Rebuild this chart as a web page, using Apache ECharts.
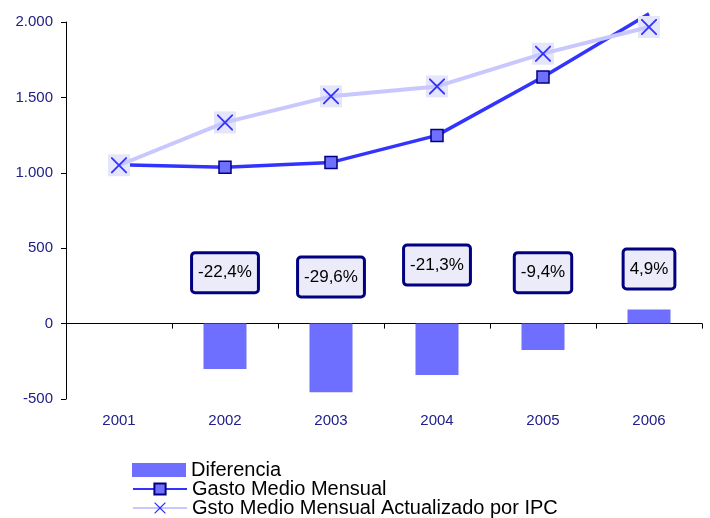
<!DOCTYPE html>
<html><head><meta charset="utf-8">
<script src="https://cdn.jsdelivr.net/npm/echarts@6/dist/echarts.min.js"></script>
<style>html,body{margin:0;padding:0;background:#fff}#c{width:710px;height:518px}</style>
</head><body><div id="c"></div>
<script>
const categories = ['2001', '2002', '2003', '2004', '2005', '2006'];
const diferencia = [null, -301, -456, -341, -175, 93];
const gasto = [1053, 1037, 1069, 1248, 1635, 2055];
const ipc = [1050, 1334, 1507, 1573, 1790, 1967];
const pctLabels = [null, '-22,4%', '-29,6%', '-21,3%', '-9,4%', '4,9%'];
const pctAnchor = [null, 338, 309, 388, 338, 362];
const legendNames = ['Diferencia', 'Gasto Medio Mensual', 'Gsto Medio Mensual Actualizado por IPC'];

const FONT = '"Liberation Sans", Arial, sans-serif';
const xPath = 'path://M0,0 L1.6,0 L10,8.4 L18.4,0 L20,0 L20,1.6 L11.6,10 L20,18.4 L20,20 L18.4,20 L10,11.6 L1.6,20 L0,20 L0,18.4 L8.4,10 L0,1.6 Z';

const legendTops = [460, 479, 498];
const legends = legendNames.map((n, i) => ({
  orient: 'horizontal', left: 132, top: legendTops[i], padding: 0, itemWidth: 54, itemHeight: 14,
  textStyle: {fontFamily: FONT, fontSize: 20, lineHeight: 19, color: '#000'},
  data: [i === 0 ? {name: n, icon: 'rect'} : {name: n}]
}));

const chart = echarts.init(document.getElementById('c'), null, {renderer: 'canvas'});
chart.setOption({
  animation: false,
  textStyle: {fontFamily: FONT},
  grid: {left: 66, right: 8, top: 22, bottom: 119, containLabel: false},
  legend: legends,
  xAxis: [
    {type: 'category', data: categories, boundaryGap: true,
     axisLine: {onZero: true, lineStyle: {color: '#000', width: 1}},
     axisTick: {show: true, length: 5, lineStyle: {color: '#000'}},
     axisLabel: {show: false}, splitLine: {show: false}},
    {type: 'category', data: categories, position: 'bottom', boundaryGap: true,
     axisLine: {show: false}, axisTick: {show: false},
     axisLabel: {show: true, color: '#20208a', fontSize: 15, fontFamily: FONT, margin: 14},
     splitLine: {show: false}}
  ],
  yAxis: {
    type: 'value', min: -500, max: 2000, interval: 500,
    axisLine: {show: true, lineStyle: {color: '#000', width: 1}},
    axisTick: {show: true, length: 5, lineStyle: {color: '#000'}},
    splitLine: {show: false},
    axisLabel: {color: '#20208a', fontSize: 15, fontFamily: FONT, margin: 13,
      formatter: v => (v < 0 ? '-' : '') + Math.abs(v).toString().replace(/\B(?=(\d{3})+(?!\d))/g, '.')}
  },
  series: [
    {name: legendNames[0], type: 'bar', data: diferencia, barWidth: 43,
     itemStyle: {color: '#6e6eff'}, z: 2},
    {name: legendNames[1], type: 'line', data: gasto.map((v, i) => i === gasto.length - 1 ? {value: v, symbol: 'none'} : v),
     clip: false, symbol: 'rect', symbolSize: 12,
     lineStyle: {color: '#3333ff', width: 3.5},
     itemStyle: {color: '#7070ff', borderColor: '#000080', borderWidth: 1.5}, z: 3},
    {name: 'ipcBg', type: 'scatter', data: ipc, symbol: 'rect', symbolSize: 22,
     itemStyle: {color: '#e6e6fa', opacity: 1}, z: 4, silent: true},
    {name: legendNames[2], type: 'line', data: ipc,
     symbol: xPath, symbolSize: 16,
     lineStyle: {color: '#c8c8ff', width: 4},
     itemStyle: {color: '#3333ff'}, z: 5},
    {name: 'pct', type: 'scatter', data: pctAnchor, symbolSize: 1,
     itemStyle: {color: 'rgba(0,0,0,0)', opacity: 1}, z: 10, silent: true,
     label: {show: true, position: 'inside', formatter: p => pctLabels[p.dataIndex] || '',
       fontFamily: FONT, fontSize: 17, color: '#000', textBorderWidth: 0, textBorderColor: 'transparent',
       backgroundColor: '#ebebfa', borderColor: '#000080', borderWidth: 3, borderRadius: 2,
       padding: [10, 5, 10, 5]}}
  ]
});
</script></body></html>
